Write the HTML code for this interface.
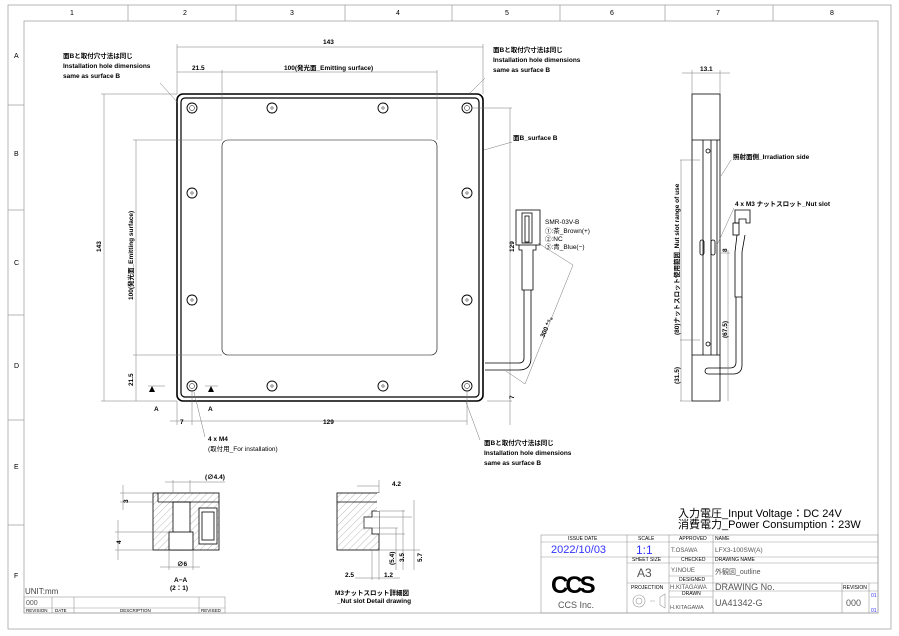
<!DOCTYPE html>
<html><head><meta charset="utf-8"><style>
html,body{margin:0;padding:0;background:#fff}
svg{display:block}
text{font-family:"Liberation Sans","Noto Sans CJK JP",sans-serif;fill:#000}
.b{font-weight:bold;font-size:6.5px}
.s{font-size:5px;fill:#333}
</style></head><body>
<svg width="899" height="636" viewBox="0 0 899 636" xmlns="http://www.w3.org/2000/svg">
<!-- frame -->
<g stroke="#999" stroke-width="0.7" fill="none">
<rect x="8" y="5" width="883" height="624"/>
<rect x="24" y="21" width="854" height="592"/>
<line x1="128" y1="5" x2="128" y2="21"/><line x1="236" y1="5" x2="236" y2="21"/><line x1="345" y1="5" x2="345" y2="21"/><line x1="452" y1="5" x2="452" y2="21"/><line x1="560" y1="5" x2="560" y2="21"/><line x1="665" y1="5" x2="665" y2="21"/><line x1="773" y1="5" x2="773" y2="21"/>
<line x1="8" y1="105" x2="24" y2="105"/><line x1="8" y1="210" x2="24" y2="210"/><line x1="8" y1="315" x2="24" y2="315"/><line x1="8" y1="420" x2="24" y2="420"/><line x1="8" y1="525" x2="24" y2="525"/>
</g>
<g font-size="7" fill="#444">
<text x="70" y="15">1</text><text x="183" y="15">2</text><text x="290" y="15">3</text><text x="396" y="15">4</text><text x="505" y="15">5</text><text x="610" y="15">6</text><text x="716" y="15">7</text><text x="830" y="15">8</text>
<text x="14" y="58">A</text><text x="14" y="156">B</text><text x="14" y="265">C</text><text x="14" y="368">D</text><text x="14" y="469">E</text><text x="14" y="578">F</text>
</g>

<!-- main view -->
<g fill="none" stroke="#000">
<rect x="177" y="94" width="306" height="307" rx="6" stroke-width="1.6"/>
<rect x="181" y="98" width="298" height="299" rx="4" stroke-width="1.2"/>
<rect x="222" y="140" width="215" height="215" rx="6" stroke-width="0.6"/>
<g stroke-width="0.9">
<circle cx="192" cy="108" r="5"/><circle cx="272" cy="108" r="5"/><circle cx="383" cy="108" r="5"/><circle cx="467" cy="108" r="5"/>
<circle cx="192" cy="193" r="5"/><circle cx="467" cy="193" r="5"/><circle cx="192" cy="300" r="5"/><circle cx="467" cy="300" r="5"/>
<circle cx="192" cy="386" r="5"/><circle cx="272" cy="386" r="5"/><circle cx="383" cy="386" r="5"/><circle cx="467" cy="386" r="5"/>
</g>
<g stroke-width="0.5">
<circle cx="192" cy="108" r="2.5"/><circle cx="272" cy="108" r="1.2"/><circle cx="383" cy="108" r="1.2"/><circle cx="467" cy="108" r="2.5"/>
<circle cx="192" cy="193" r="1.2"/><circle cx="467" cy="193" r="1.2"/><circle cx="192" cy="300" r="1.2"/><circle cx="467" cy="300" r="1.2"/>
<circle cx="192" cy="386" r="2.5"/><circle cx="272" cy="386" r="1.2"/><circle cx="383" cy="386" r="1.2"/><circle cx="467" cy="386" r="2.5"/>
</g>
</g>
<!-- dims main -->
<g stroke="#777" stroke-width="0.5" fill="none">
<line x1="177" y1="44" x2="177" y2="94"/><line x1="483" y1="44" x2="483" y2="94"/><line x1="177" y1="47" x2="483" y2="47"/>
<line x1="222" y1="70" x2="222" y2="140"/><line x1="437" y1="70" x2="437" y2="140"/><line x1="177" y1="72" x2="437" y2="72"/>
<line x1="101" y1="94" x2="177" y2="94"/><line x1="101" y1="401" x2="177" y2="401"/><line x1="104" y1="94" x2="104" y2="401"/>
<line x1="133" y1="140" x2="222" y2="140"/><line x1="133" y1="355" x2="222" y2="355"/><line x1="136" y1="140" x2="136" y2="401"/>
<line x1="177" y1="401" x2="177" y2="425"/><line x1="192" y1="390" x2="192" y2="425"/><line x1="467" y1="390" x2="467" y2="425"/><line x1="170" y1="421" x2="467" y2="421"/>
<line x1="472" y1="108" x2="512" y2="108"/><line x1="487" y1="401" x2="512" y2="401"/><line x1="510" y1="108" x2="510" y2="425"/>
<line x1="160" y1="83" x2="178" y2="103"/><line x1="485" y1="78" x2="470" y2="93"/><line x1="484" y1="150" x2="512" y2="142"/>
<line x1="480" y1="440" x2="466" y2="402"/><line x1="205" y1="437" x2="194" y2="392"/>
<line x1="148" y1="386" x2="165" y2="386"/><line x1="205" y1="386" x2="218" y2="386"/>
<line x1="538" y1="243" x2="573" y2="265"/><line x1="506" y1="371" x2="525" y2="384"/><line x1="573" y1="265" x2="525" y2="384"/>
</g>
<g fill="#000"><path d="M152 386 l3 6 h-6z"/><path d="M211 386 l3 6 h-6z"/></g>
<text class="b" x="323" y="44">143</text>
<text class="b" x="192" y="70">21.5</text>
<text class="b" x="284" y="70">100(発光面_Emitting  surface)</text>
<text class="b" transform="translate(101,252) rotate(-90)">143</text>
<text class="b" transform="translate(133,300) rotate(-90)">100(発光面_Emitting  surface)</text>
<text class="b" transform="translate(133,386) rotate(-90)">21.5</text>
<text class="b" x="180" y="424">7</text>
<text class="b" x="323" y="424">129</text>
<text class="b" transform="translate(514,252) rotate(-90)">129</text>
<text class="b" transform="translate(514,399) rotate(-90)">7</text>
<text class="b" x="154" y="411">A</text><text class="b" x="208" y="411">A</text>
<text class="b" x="208" y="441">4 x M4</text>
<text class="b" x="208" y="451" style="font-weight:normal">(取付用_For installation)</text>
<g class="b"><text x="63" y="58">面Bと取付穴寸法は同じ</text><text x="63" y="68">Installation hole dimensions</text><text x="63" y="78">same as surface B</text>
<text x="493" y="52">面Bと取付穴寸法は同じ</text><text x="493" y="62">Installation hole dimensions</text><text x="493" y="72">same as surface B</text>
<text x="484" y="445">面Bと取付穴寸法は同じ</text><text x="484" y="455">Installation hole dimensions</text><text x="484" y="465">same as surface B</text>
<text x="513" y="140">面B_surface B</text></g>
<!-- cable -->
<g fill="none" stroke="#000" stroke-width="0.8">
<rect x="516" y="210" width="24" height="35"/><rect x="522" y="213" width="10" height="30"/><rect x="525" y="216" width="4" height="26"/>
<path d="M519 245 v5 h3 v40 h11 v-40 h3 v-5"/>
<path d="M524 290 v68 q0 5 -5 5 h-34"/><path d="M531 290 v68 q0 12 -12 12 h-34"/>
</g>
<g class="b" style="font-weight:normal;font-size:6.5px"><text x="545" y="224">SMR-03V-B</text><text x="545" y="233">①:茶_Brown(+)</text><text x="545" y="241">②:NC</text><text x="545" y="249">③:青_Blue(−)</text></g>
<text class="b" transform="translate(544,338) rotate(-66)">300 ⁺⁵₀</text>

<!-- side view -->
<g fill="none" stroke="#000" stroke-width="0.8">
<rect x="692" y="94" width="28" height="307"/>
<line x1="692" y1="140" x2="720" y2="140"/><line x1="692" y1="355" x2="720" y2="355"/>
<line x1="703" y1="140" x2="703" y2="355"/><line x1="711" y1="140" x2="711" y2="355"/><line x1="717" y1="140" x2="717" y2="355"/>
<rect x="700" y="240" width="4" height="15" rx="2"/><rect x="711" y="240" width="4" height="15" rx="2"/>
<circle cx="708" cy="151" r="2"/><circle cx="708" cy="344" r="2"/>
<path d="M735 210 h15 v13 h-4 v-4 h-7 v4 h-4z"/><rect x="733" y="223" width="6" height="12"/>
<path d="M737 235 l-2 17 v45 h7 v-45 l3 -17"/>
<path d="M736 297 v65 q0 6 -6 6 h-22"/><path d="M742 297 v68 q0 9 -9 9 h-25"/>
<path d="M708 368 a3 3 0 0 0 0 6"/>
</g>
<g stroke="#777" stroke-width="0.5" fill="none">
<line x1="692" y1="70" x2="692" y2="94"/><line x1="720" y1="70" x2="720" y2="94"/><line x1="682" y1="73" x2="730" y2="73"/>
<line x1="680" y1="160" x2="700" y2="160"/><line x1="680" y1="340" x2="700" y2="340"/><line x1="680" y1="401" x2="692" y2="401"/><line x1="681" y1="160" x2="681" y2="401"/>
<line x1="728" y1="250" x2="728" y2="401"/><line x1="721" y1="253" x2="730" y2="253"/>
<line x1="731" y1="160" x2="721" y2="176"/><line x1="734" y1="208" x2="717" y2="245"/>
</g>
<text class="b" x="700" y="71">13.1</text>
<text class="b" x="733" y="159">照射面側_Irradiation side</text>
<text class="b" x="735" y="206">4 x M3 ナットスロット_Nut slot</text>
<text class="b" transform="translate(679,335) rotate(-90)">(80)ナットスロット使用範囲_Nut slot range of use</text>
<text class="b" transform="translate(679,384) rotate(-90)">(31.5)</text>
<text class="b" transform="translate(727,338) rotate(-90)">(67.5)</text>
<text class="b" transform="translate(727,252) rotate(-90)">8</text>

<!-- section A-A -->
<defs><pattern id="h" width="5" height="5" patternUnits="userSpaceOnUse" patternTransform="rotate(45)"><line x1="0" y1="0" x2="0" y2="5" stroke="#777" stroke-width="0.5"/></pattern></defs>
<g stroke="#000" stroke-width="0.8">
<rect x="153" y="493" width="66" height="57" fill="url(#h)"/>
<rect x="173" y="502" width="17" height="48" fill="#fff"/>
<rect x="169" y="532" width="24" height="18" fill="#fff"/>
<rect x="199" y="508" width="18" height="36" fill="#fff"/>
<rect x="202" y="512" width="12" height="28" fill="none"/>
<line x1="158" y1="493" x2="158" y2="502" /><line x1="158" y1="502" x2="219" y2="502" fill="none"/>
<rect x="337" y="493" width="42" height="57" fill="url(#h)"/>
<line x1="337" y1="502" x2="379" y2="502"/>
<path d="M379 511 h-7 v6 h-8 v11 h8 v6 h7" fill="#fff"/>
<rect x="377" y="493" width="4" height="18" fill="#fff" stroke="none"/>
</g>
<g stroke="#777" stroke-width="0.5" fill="none">
<line x1="120" y1="493" x2="153" y2="493"/><line x1="120" y1="502" x2="153" y2="502"/><line x1="123" y1="485" x2="123" y2="510"/>
<line x1="115" y1="532" x2="169" y2="532"/><line x1="115" y1="550" x2="153" y2="550"/><line x1="118" y1="520" x2="118" y2="560"/>
<line x1="169" y1="550" x2="169" y2="570"/><line x1="193" y1="550" x2="193" y2="570"/><line x1="160" y1="567" x2="200" y2="567"/>
<line x1="173" y1="480" x2="173" y2="493"/><line x1="190" y1="480" x2="190" y2="493"/><line x1="165" y1="482" x2="225" y2="482"/>
<line x1="357" y1="486" x2="379" y2="486"/><line x1="379" y1="480" x2="379" y2="493"/>
<line x1="379" y1="511" x2="405" y2="511"/><line x1="379" y1="534" x2="405" y2="534"/><line x1="364" y1="528" x2="398" y2="528"/><line x1="379" y1="550" x2="420" y2="550"/><line x1="372" y1="517" x2="412" y2="517"/><line x1="364" y1="517" x2="364" y2="530"/>
<line x1="396" y1="528" x2="396" y2="570"/><line x1="403" y1="510" x2="403" y2="570"/><line x1="414" y1="500" x2="414" y2="570"/>
<line x1="372" y1="550" x2="372" y2="580"/><line x1="379" y1="550" x2="379" y2="580"/><line x1="355" y1="578" x2="400" y2="578"/>
</g>
<text class="b" x="205" y="479">(∅4.4)</text>
<text class="b" transform="translate(128,503) rotate(-90)">3</text>
<text class="b" transform="translate(121,544) rotate(-90)">4</text>
<text class="b" x="177" y="566">∅6</text>
<text class="b" x="174" y="582">A−A</text><text class="b" x="170" y="590">(2：1)</text>
<text class="b" x="392" y="486">4.2</text>
<text class="b" transform="translate(394,565) rotate(-90)">(5.4)</text>
<text class="b" transform="translate(404,562) rotate(-90)">3.5</text>
<text class="b" transform="translate(422,562) rotate(-90)">5.7</text>
<text class="b" x="345" y="577">2.5</text><text class="b" x="384" y="577">1.2</text>
<text class="b" x="335" y="595">M3ナットスロット詳細図</text><text class="b" x="337" y="603">_Nut slot Detail drawing</text>

<!-- voltage -->
<text x="678" y="517" font-size="11">入力電圧_Input Voltage：DC 24V</text>
<text x="678" y="528" font-size="11">消費電力_Power Consumption：23W</text>

<!-- title block -->
<g stroke="#999" stroke-width="0.6" fill="none">
<rect x="541" y="535" width="337" height="78"/>
<line x1="541" y1="542" x2="713" y2="542"/><line x1="541" y1="557" x2="627" y2="557"/><line x1="627" y1="557" x2="878" y2="557"/>
<line x1="627" y1="563" x2="669" y2="563"/><line x1="669" y1="563" x2="878" y2="563"/><line x1="713" y1="542" x2="878" y2="542"/>
<line x1="627" y1="583" x2="878" y2="583"/><line x1="669" y1="576" x2="713" y2="576"/><line x1="669" y1="591" x2="878" y2="591"/><line x1="669" y1="597" x2="713" y2="597"/>
<line x1="627" y1="535" x2="627" y2="613"/><line x1="669" y1="535" x2="669" y2="613"/><line x1="713" y1="535" x2="713" y2="613"/><line x1="842" y1="583" x2="842" y2="613"/><line x1="869" y1="583" x2="869" y2="613"/>
<circle cx="639" cy="601" r="6"/><circle cx="639" cy="601" r="3"/><path d="M650 601 h5 M660 597 l5 -3 v14 l-5 -3z"/>
</g>
<g class="s">
<text x="568" y="540">ISSUE DATE</text><text x="638" y="540">SCALE</text><text x="679" y="540">APPROVED</text><text x="715" y="540">NAME</text>
<text x="632" y="561">SHEET SIZE</text><text x="681" y="561">CHECKED</text><text x="715" y="561">DRAWING NAME</text>
<text x="679" y="581">DESIGNED</text><text x="631" y="589">PROJECTION</text><text x="682" y="595">DRAWN</text><text x="843" y="589">REVISION</text>
</g>
<text x="551" y="553" font-size="11" style="fill:#33f">2022/10/03</text>
<text x="636" y="554" font-size="12" style="fill:#33f">1:1</text>
<text x="637" y="577" font-size="12" style="fill:#555">A3</text>
<text x="671" y="552" font-size="6" style="fill:#555">T.OSAWA</text><text x="671" y="572" font-size="6" style="fill:#555">Y.INOUE</text>
<text x="670" y="589" font-size="6" style="fill:#555">H.KITAGAWA</text><text x="670" y="609" font-size="5.5" style="fill:#555">H.KITAGAWA</text>
<text x="715" y="552" font-size="6.5" style="fill:#555">LFX3-100SW(A)</text>
<text x="715" y="574" font-size="7" style="fill:#555">外観図_outline</text>
<text x="715" y="590" font-size="9" style="fill:#555">DRAWING No.</text>
<text x="715" y="606" font-size="9" style="fill:#555">UA41342-G</text>
<text x="846" y="606" font-size="9" style="fill:#555">000</text>
<text x="871" y="597" font-size="5" style="fill:#33f">01</text><text x="871" y="612" font-size="5" style="fill:#33f">01</text>
<text x="551" y="593" font-size="24" font-weight="bold" letter-spacing="-3">CCS</text>
<text x="558" y="608" font-size="9" style="fill:#555">CCS Inc.</text>

<!-- revision block -->
<text x="25" y="594" font-size="8" style="fill:#444">UNIT:mm</text>
<g stroke="#999" stroke-width="0.6" fill="none"><rect x="24" y="597" width="201" height="16"/><line x1="24" y1="608" x2="225" y2="608"/><line x1="52" y1="597" x2="52" y2="613"/><line x1="74" y1="597" x2="74" y2="613"/><line x1="199" y1="597" x2="199" y2="613"/></g>
<text x="26" y="605" font-size="7" style="fill:#555">000</text>
<g class="s" style="font-size:4.5px"><text x="26" y="612">REVISION</text><text x="55" y="612">DATE</text><text x="120" y="612">DESCRIPTION</text><text x="201" y="612">REVISED</text></g>
</svg>
</body></html>
